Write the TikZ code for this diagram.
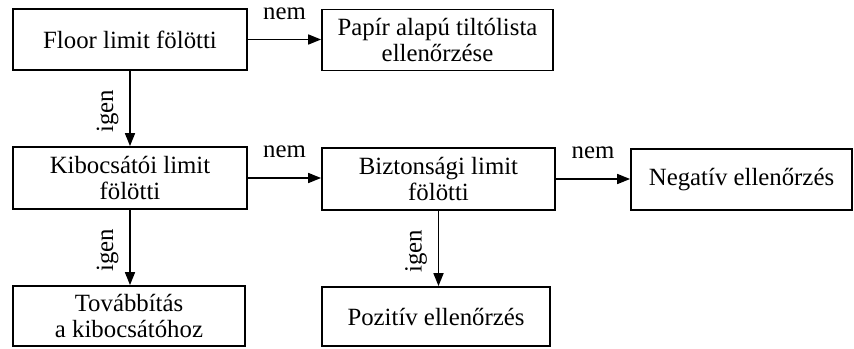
\documentclass[tikz,border=0pt]{standalone}
\usepackage{fontspec}
\setmainfont{Liberation Serif}
\usetikzlibrary{arrows.meta,calc}
\begin{document}
\begin{tikzpicture}[x=0.5pt,y=-0.5pt,
  box/.style={draw, line width=0.9pt, align=center, inner sep=0pt,
    font=\fontsize{12.4}{12.6}\selectfont},
  arr/.style={line width=0.85pt, -{Triangle[length=6.5pt,width=5pt]}},
  lbl/.style={font=\fontsize{12.4}{12.4}\selectfont, inner sep=0pt},
]
\useasboundingbox (0,0) rectangle (854,348);
\node[box, minimum width=117pt, minimum height=30.5pt] (floor) at (130,39.5) {Floor limit fölötti};
\node[box, minimum width=115.5pt, minimum height=30.5pt] (papir) at (437.5,40) {Papír alapú tiltólista\\ellenőrzése};
\node[box, minimum width=117pt, minimum height=31pt] (kib) at (130,178) {Kibocsátói limit\\fölötti};
\node[box, minimum width=116.5pt, minimum height=31pt] (bizt) at (438.5,179) {Biztonsági limit\\fölötti};
\node[box, minimum width=110.5pt, minimum height=30.5pt] (neg) at (741.5,179.5) {Negatív ellenőrzés};
\node[box, minimum width=116pt, minimum height=30pt] (tov) at (129,316) {Továbbítás\\a kibocsátóhoz};
\node[box, minimum width=114pt, minimum height=29.5pt] (poz) at (436,316.5) {Pozitív ellenőrzés};

\draw[arr] (floor.east) -- (floor.east -| papir.west) node[lbl, midway, above=9.5pt] {nem};
\draw[arr] (kib.east) -- (kib.east -| bizt.west) node[lbl, midway, above=9.5pt] {nem};
\draw[arr] (bizt.east) -- (bizt.east -| neg.west) node[lbl, midway, above=9.5pt] {nem};

\draw[arr] (floor.south) -- (floor.south |- kib.north);
\draw[arr] (kib.south) -- (kib.south |- tov.north);
\draw[arr] (bizt.south) -- (bizt.south |- poz.north);

\node[lbl, rotate=90, anchor=base] (ig1) at ($(floor.south)!0.5!(floor.south |- kib.north)+(-8.5pt,-1.5pt)$) {igen};
\node[lbl, rotate=90, anchor=base] (ig2) at ($(kib.south)!0.5!(kib.south |- tov.north)+(-8.5pt,-1.5pt)$) {igen};
\node[lbl, rotate=90, anchor=base] (ig3) at ($(bizt.south)!0.5!(bizt.south |- poz.north)+(-8.5pt,-1.5pt)$) {igen};
\end{tikzpicture}
\end{document}
